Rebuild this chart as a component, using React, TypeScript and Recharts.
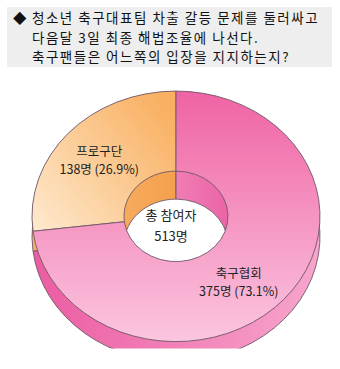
import { PieChart, Pie, Cell } from "recharts";

const titleLines = [
  "청소년 축구대표팀 차출 갈등 문제를 둘러싸고",
  "다음달 3일 최종 해법조율에 나선다.",
  "축구팬들은 어느쪽의 입장을 지지하는지?",
];

const names = ["프로구단", "축구협회"];
const values = [138, 375];
const totalLabel = "총 참여자";
const unit = "명";

const total = values.reduce((a, b) => a + b, 0);
const data = names.map((name, i) => ({ name, value: values[i] }));

const topFills = ["url(#orangeTop)", "url(#pinkTop)"];
const sideFills = ["url(#orangeSide)", "url(#pinkSide)"];
const wallFills = ["url(#orangeWall)", "url(#pinkWall)"];
const labelNudge = [
  [-2, 2],
  [-12, 8],
];

// vertical squash to fake the tilted disc
const S = 0.87;
const CX = 171;
const CY = 212;
const OUTER = 144;
const INNER = 52;
const STROKE = "#735a6a";
const RAD = Math.PI / 180;
const FS = 12.5;
const GAP = 18.2;

function renderLabel(props: any) {
  const { cx, cy, midAngle, index, name, value } = props;
  const r = 100;
  const x = cx + r * Math.cos(-midAngle * RAD) + labelNudge[index][0];
  const y = cy + r * Math.sin(-midAngle * RAD) + labelNudge[index][1] / S;
  const pct = ((value / total) * 100).toFixed(1);
  const common = {
    textAnchor: "middle" as const,
    fill: "#222",
    fontSize: FS,
    fontFamily: "'Noto Sans CJK KR', sans-serif",
  };
  return (
    <g transform={`translate(${x},${y}) scale(1, ${1 / S})`}>
      <text {...common} x={0} y={-GAP / 2 + FS * 0.38}>
        {name}
      </text>
      <text {...common} x={0} y={GAP / 2 + FS * 0.38}>
        {`${value}${unit} (${pct}%)`}
      </text>
    </g>
  );
}

export default function App() {
  const titleText = {
    fontSize: 13.5,
    lineHeight: "19.6px",
    letterSpacing: "1.5px",
    color: "#111",
  };
  return (
    <div
      style={{
        position: "absolute",
        left: 0,
        top: 0,
        width: 340,
        height: 369,
        background: "#fff",
        fontFamily: "'Noto Sans CJK KR', sans-serif",
        overflow: "hidden",
      }}
    >
      <div
        style={{
          position: "absolute",
          left: 7,
          top: 7,
          width: 325,
          height: 60,
          background: "#eeeeee",
        }}
      >
        <span style={{ position: "absolute", left: 6, top: 1, ...titleText, letterSpacing: 0 }}>
          ◆
        </span>
        <div
          style={{
            position: "absolute",
            left: 25,
            top: 1,
            whiteSpace: "nowrap",
            ...titleText,
          }}
        >
          {titleLines.map((l) => (
            <div key={l}>{l}</div>
          ))}
        </div>
      </div>

      <div
        style={{
          position: "absolute",
          left: 0,
          top: 0,
          transform: `scaleY(${S})`,
          transformOrigin: `${CX}px ${CY}px`,
        }}
      >
        <PieChart width={340} height={369}>
          <defs>
            <linearGradient id="pinkTop" x1="0" y1="0" x2="0" y2="1">
              <stop offset="0%" stopColor="#ef63a4" />
              <stop offset="100%" stopColor="#fbc6df" />
            </linearGradient>
            <linearGradient id="orangeTop" x1="1" y1="0.2" x2="0" y2="1">
              <stop offset="0%" stopColor="#f9b062" />
              <stop offset="100%" stopColor="#feeacf" />
            </linearGradient>
            <linearGradient id="pinkSide" x1="0" y1="0" x2="1" y2="0">
              <stop offset="0%" stopColor="#ec5ca2" />
              <stop offset="100%" stopColor="#f7a6cd" />
            </linearGradient>
            <linearGradient id="orangeSide" x1="0" y1="0" x2="1" y2="0">
              <stop offset="0%" stopColor="#f6b066" />
              <stop offset="100%" stopColor="#f8c080" />
            </linearGradient>
            <linearGradient id="pinkWall" x1="0" y1="0" x2="1" y2="0">
              <stop offset="0%" stopColor="#f8a8cf" />
              <stop offset="100%" stopColor="#e8519a" />
            </linearGradient>
            <linearGradient id="orangeWall" x1="0" y1="0" x2="1" y2="0">
              <stop offset="0%" stopColor="#f7b36a" />
              <stop offset="100%" stopColor="#f5a04c" />
            </linearGradient>
          </defs>
          <Pie
            data={data}
            dataKey="value"
            cx={CX}
            cy={CY + 20 / S}
            innerRadius={INNER}
            outerRadius={OUTER}
            startAngle={90}
            endAngle={450}
            stroke={STROKE}
            strokeWidth={1}
            isAnimationActive={false}
          >
            {data.map((d, i) => (
              <Cell key={`side-${d.name}`} fill={sideFills[i]} />
            ))}
          </Pie>
          <Pie
            data={data}
            dataKey="value"
            cx={CX}
            cy={CY + 28 / S}
            innerRadius={INNER}
            outerRadius={INNER + 40}
            startAngle={90}
            endAngle={450}
            stroke={STROKE}
            strokeWidth={1}
            isAnimationActive={false}
          >
            {data.map((d, i) => (
              <Cell key={`wall-${d.name}`} fill={wallFills[i]} />
            ))}
          </Pie>
          <Pie
            data={data}
            dataKey="value"
            cx={CX}
            cy={CY}
            innerRadius={INNER}
            outerRadius={OUTER}
            startAngle={90}
            endAngle={450}
            stroke={STROKE}
            strokeWidth={1}
            label={renderLabel}
            labelLine={false}
            isAnimationActive={false}
          >
            {data.map((d, i) => (
              <Cell key={`top-${d.name}`} fill={topFills[i]} />
            ))}
          </Pie>
        </PieChart>
      </div>

      <div
        style={{
          position: "absolute",
          left: CX - 55,
          top: 204,
          width: 110,
          textAlign: "center",
          fontSize: 13,
          lineHeight: "21px",
          color: "#222",
        }}
      >
        <div>{totalLabel}</div>
        <div>{`${total}${unit}`}</div>
      </div>
    </div>
  );
}
